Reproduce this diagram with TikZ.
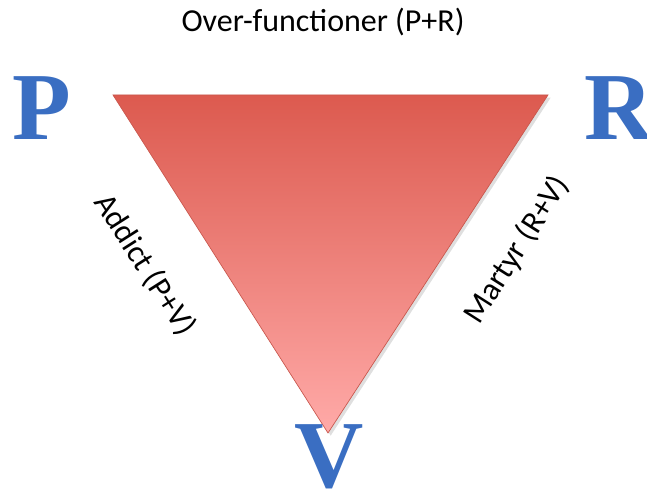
\documentclass[tikz,border=0pt]{standalone}
\usepackage{fontspec}
\setmainfont{Carlito}
\newfontfamily\letterfont{Liberation Serif}
\usetikzlibrary{shadows}
\definecolor{tritop}{HTML}{DC5A4F}
\definecolor{tribot}{HTML}{FFAAA8}
\definecolor{tribord}{HTML}{C8564C}
\definecolor{letterblue}{HTML}{3A6EC2}
\tikzset{
  vertex/.style={font=\letterfont\bfseries\fontsize{72}{72}\selectfont, text=letterblue, inner sep=0pt},
  role/.style={font=\fontsize{24}{26}\selectfont, inner sep=0pt}
}
\begin{document}
\begin{tikzpicture}[x=0.75pt, y=-0.75pt]
    \useasboundingbox (0,0) rectangle (647,491);
    % Corners of the triangle
    \coordinate (tl) at (113,95);
    \coordinate (tr) at (548,95);
    \coordinate (bt) at (328,433);
    % Triangle
    \shade[top color=tritop, bottom color=tribot, draw=tribord, line width=0.5pt,
        drop shadow={opacity=0.25, shadow xshift=2pt, shadow yshift=-2pt}]
        (tl) -- (tr) -- (bt) -- cycle;
    % Letters
    \node[vertex] (p) at (42,108) {P};
    \node[vertex] (r) at (619,108) {R};
    \node[vertex] (v) at (329,457) {V};
    % Labels
    \node[role] (over) at (323,22) {Over-functioner (P+R)};
    \node[role, rotate=-57.5] (addict) at (145,265) {Addict (P+V)};
    \node[role, rotate=57.5] (martyr) at (517,250) {Martyr (R+V)};
\end{tikzpicture}
\end{document}
